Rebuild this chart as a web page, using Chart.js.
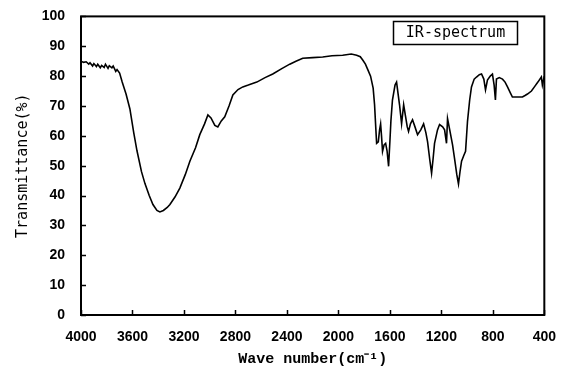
<!DOCTYPE html>
<html>
<head>
<meta charset="utf-8">
<script src="https://cdn.jsdelivr.net/npm/chart.js@4"></script>
<style>
  html, body { margin: 0; padding: 0; background: #fff; }
  #wrap { width: 562px; height: 372px; }
</style>
</head>
<body>
<div id="wrap"><canvas id="irchart"></canvas></div>
<script>
// wave numbers (cm-1) and transmittance (%)
const waveNumbers = [4000, 3980, 3960, 3940, 3930, 3910, 3900, 3880, 3870, 3850, 3840, 3820, 3810, 3790, 3780, 3760, 3750, 3730, 3720, 3700,
  3680, 3650, 3620, 3590, 3565, 3530, 3503, 3470, 3441, 3410, 3387, 3360, 3330, 3309, 3270, 3232, 3190, 3154, 3110, 3077,
  3040, 3014, 2990, 2960, 2937, 2910, 2883, 2850, 2820, 2780, 2743, 2700, 2634, 2570, 2510, 2440, 2378, 2330, 2277, 2200,
  2122, 2050, 1967, 1900, 1858, 1830, 1811, 1790, 1770, 1750, 1730, 1719, 1710, 1703, 1690, 1680, 1672, 1665, 1657, 1645,
  1633, 1622, 1610, 1600, 1592, 1580, 1560, 1548, 1536, 1525, 1509, 1493, 1478, 1465, 1455, 1440, 1424, 1405, 1385, 1360,
  1338, 1320, 1307, 1290, 1276, 1265, 1253, 1230, 1214, 1190, 1175, 1160, 1152, 1135, 1113, 1098, 1080, 1067, 1055, 1043,
  1025, 1012, 997, 980, 966, 945, 927, 905, 888, 870, 857, 842, 820, 803, 790, 780, 772, 750, 725, 705,
  686, 665, 648, 610, 570, 550, 531, 500, 477, 450, 423, 415, 400];
const transmittance = [85, 84.6, 84.8, 84, 84.5, 83.4, 84.2, 83.2, 84, 82.8, 83.6, 82.9, 84, 82.6, 83.5, 82.8, 83.4, 81.6, 82.2, 81,
  78, 74, 69, 61, 55, 48, 44, 40, 37, 35, 34.5, 35, 36, 37, 39.5, 42.5, 47, 51.5, 56, 60.4,
  64, 67, 66, 63.5, 63, 65, 66.4, 70, 73.7, 75.5, 76.4, 77, 78, 79.5, 80.7, 82.5, 84, 85, 86, 86.2,
  86.4, 86.8, 87, 87.4, 87, 86.5, 85.4, 84, 82, 80, 76, 70.4, 63, 57.5, 58, 62, 64, 60, 54.8, 57,
  57.5, 55, 49.8, 58, 65, 72, 77, 78, 74, 70.4, 64, 70.4, 66.4, 63, 61.5, 64, 65.4, 63, 60.4, 62,
  64, 61, 58, 52, 47.5, 52, 57.5, 62, 63.8, 63, 62, 57.5, 65.8, 62, 57, 52.5, 47, 43.9, 48, 51.5,
  53.5, 54.8, 64.8, 72, 76.4, 79, 79.7, 80.5, 80.7, 79, 75.4, 78.7, 80, 80.7, 77, 72, 79, 79.5, 79, 78,
  76.4, 74.5, 73, 73, 73, 73.5, 74, 75, 76.4, 78, 79.7, 77, 80];
const seriesLabel = 'IR-spectrum';

const points = waveNumbers.map((w, i) => ({ x: w, y: transmittance[i] }));

// frame, inward tick marks and the boxed label
const framePlugin = {
  id: 'frame',
  afterDraw(chart) {
    const ctx = chart.ctx;
    const a = chart.chartArea;
    const xs = chart.scales.x, ys = chart.scales.y;
    ctx.save();
    ctx.strokeStyle = '#000';
    ctx.lineWidth = 2;
    ctx.strokeRect(a.left, a.top, a.right - a.left, a.bottom - a.top);
    ctx.lineWidth = 1.5;
    ctx.beginPath();
    ys.ticks.forEach(t => {
      const py = Math.round(ys.getPixelForValue(t.value)) + 0.5;
      ctx.moveTo(a.left, py); ctx.lineTo(a.left + 5, py);
    });
    xs.ticks.forEach(t => {
      const px = Math.round(xs.getPixelForValue(t.value)) + 0.5;
      ctx.moveTo(px, a.bottom); ctx.lineTo(px, a.bottom - 5);
    });
    ctx.stroke();
    // label box
    ctx.lineWidth = 1.5;
    ctx.strokeRect(393.5, 21.5, 124, 23);
    ctx.fillStyle = '#000';
    ctx.font = '15px "DejaVu Sans Mono"';
    ctx.textAlign = 'center';
    ctx.textBaseline = 'middle';
    ctx.fillText(seriesLabel, 455.5, 33.5);
    ctx.restore();
  }
};

new Chart(document.getElementById('irchart').getContext('2d'), {
  type: 'line',
  data: {
    datasets: [{
      label: seriesLabel,
      data: points,
      borderColor: '#000',
      borderWidth: 1.6,
      pointRadius: 0,
      tension: 0,
      fill: false
    }]
  },
  options: {
    responsive: true,
    maintainAspectRatio: false,
    animation: false,
    layout: { padding: { top: 14, right: 17, left: 0, bottom: 0 } },
    plugins: { legend: { display: false }, tooltip: { enabled: false } },
    scales: {
      x: {
        type: 'linear',
        reverse: true,
        min: 400,
        max: 4000,
        grid: { display: false },
        border: { display: false },
        ticks: {
          stepSize: 400,
          color: '#000',
          padding: 6,
          font: { family: '"Liberation Sans"', size: 14, weight: 'bold' },
          callback: v => String(v)
        },
        title: {
          display: true,
          text: 'Wave number(cm\u207B\u00B9)',
          color: '#000',
          font: { family: '"Liberation Mono"', size: 15, weight: 'bold' },
          padding: { top: 4, bottom: 4 }
        },
        afterFit(scale) { scale.height = 57; }
      },
      y: {
        min: 0,
        max: 100,
        grid: { display: false },
        border: { display: false },
        ticks: {
          stepSize: 10,
          color: '#000',
          padding: 8,
          font: { family: '"Liberation Sans"', size: 14, weight: 'bold' }
        },
        title: {
          display: true,
          text: 'Transmittance(%)',
          color: '#000',
          font: { family: '"DejaVu Sans Mono"', size: 15 },
          padding: { top: 14, bottom: 0 }
        },
        afterFit(scale) { scale.width = 81; }
      }
    }
  },
  plugins: [framePlugin]
});
</script>
</body>
</html>
